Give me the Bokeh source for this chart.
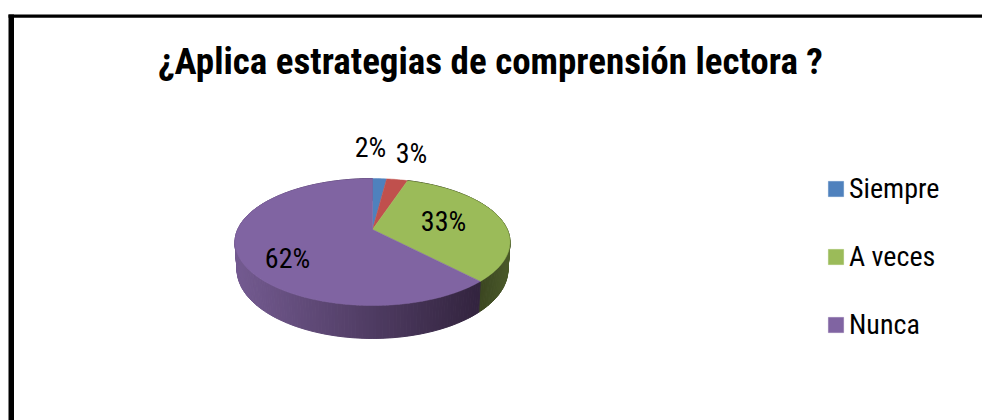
import numpy as np
from bokeh.core.properties import value
from bokeh.embed import file_html
from bokeh.models import Legend, LegendItem
from bokeh.plotting import figure
from bokeh.resources import INLINE

TITLE = "¿Aplica estrategias de comprensión lectora ?"
categories = ["Siempre", "Otro", "A veces", "Nunca"]
values = [2, 3, 33, 62]
colors = ["#4f81bd", "#c0504d", "#9bbb59", "#8064a2"]
labels = ["2%", "3%", "33%", "62%"]
label_x = [370, 411, 443, 287]
label_y = [147, 153, 221, 258]
legend_names = ["Siempre", "A veces", "Nunca"]

FONT = "Roboto Condensed"
CX, CY, SX, SY, K = 372.0, 229.0, 134.8, 61.0, 0.197
DEPTH = 26.5


def project(frac):
    """Clockwise fraction of the pie from 12 o'clock -> perspective pixel coords."""
    a = 2 * np.pi * np.asarray(frac, dtype=float)
    X, Y = np.sin(a), np.cos(a)
    w = 1 + K * Y
    return CX + SX * X / w, CY - SY * Y / w, w


def lower(frac):
    x, y, w = project(frac)
    return CX + (x - CX) * 0.985, y + DEPTH / w


def mix(c1, c2, t):
    a = np.array(c1)
    b = np.array(c2)
    r = a + (b - a) * t
    return "#%02x%02x%02x" % tuple(int(round(v)) for v in r)


p = figure(width=982, height=420, x_range=(0, 982), y_range=(420, 0),
           toolbar_location=None, output_backend="svg", min_border=0,
           outline_line_color=None, background_fill_color="white",
           border_fill_color="white")
p.axis.visible = False
p.grid.visible = False

# open frame: top and left rules only
p.segment([8, 10.75], [15.6, 14], [982, 10.75], [15.6, 420],
          line_color="black", line_width=[3.3, 5.5])

total = sum(values)
cum = np.cumsum([0] + values) / total

# extruded rim, shaded slice by slice
for i in range(2, 4):
    n = max(8, int(values[i] * 3))
    edges = np.linspace(cum[i], cum[i + 1], n + 1)
    for f0, f1 in zip(edges[:-1], edges[1:]):
        mid = (f0 + f1) / 2
        xm, _, _ = project(mid)
        x0, y0, _ = project(f0)
        x1, y1, _ = project(f1)
        bx0, by0 = lower(f0)
        bx1, by1 = lower(f1)
        if i == 2:
            c = mix((0x4b, 0x5a, 0x2a), (0x3a, 0x45, 0x20), (510 - xm) / 32)
        else:
            t = np.clip((xm - 236) / 240, 0, 1)
            c = mix((0x73, 0x5a, 0x90), (0x33, 0x24, 0x3f), t)
        p.patch([x0, x1, bx1, bx0], [y0, y1, by1, by0], fill_color=c, line_color=c, line_width=1)

# top faces
slices = []
for i, v in enumerate(values):
    n = max(4, int(v * 3))
    f = np.linspace(cum[i], cum[i + 1], n + 1)
    x, y, _ = project(f)
    xs = np.concatenate([[CX], x])
    ys = np.concatenate([[CY], y])
    slices.append(p.patch(xs, ys, fill_color=colors[i], line_color=colors[i], line_width=0.5))

p.text(label_x, label_y, text=labels, text_font=value(FONT), text_font_size="28px",
       text_color="black", text_align="center", text_baseline="middle")
p.text([490], [61], text=[TITLE], text_font=value(FONT), text_font_size="37px",
       text_font_style="bold", text_color="black", text_align="center", text_baseline="middle")

items = [LegendItem(label=n, renderers=[slices[categories.index(n)]]) for n in legend_names]
legend = Legend(items=items, location=(826, 79), orientation="vertical",
                glyph_width=19, glyph_height=19, label_height=19, label_standoff=4,
                spacing=35, padding=0, margin=0, border_line_color=None,
                background_fill_alpha=0, label_text_font=FONT, label_text_font_size="28px",
                label_text_color="black", label_text_baseline="middle")
p.add_layout(legend, "center")

open("out.html", "w").write(file_html(p, INLINE))
